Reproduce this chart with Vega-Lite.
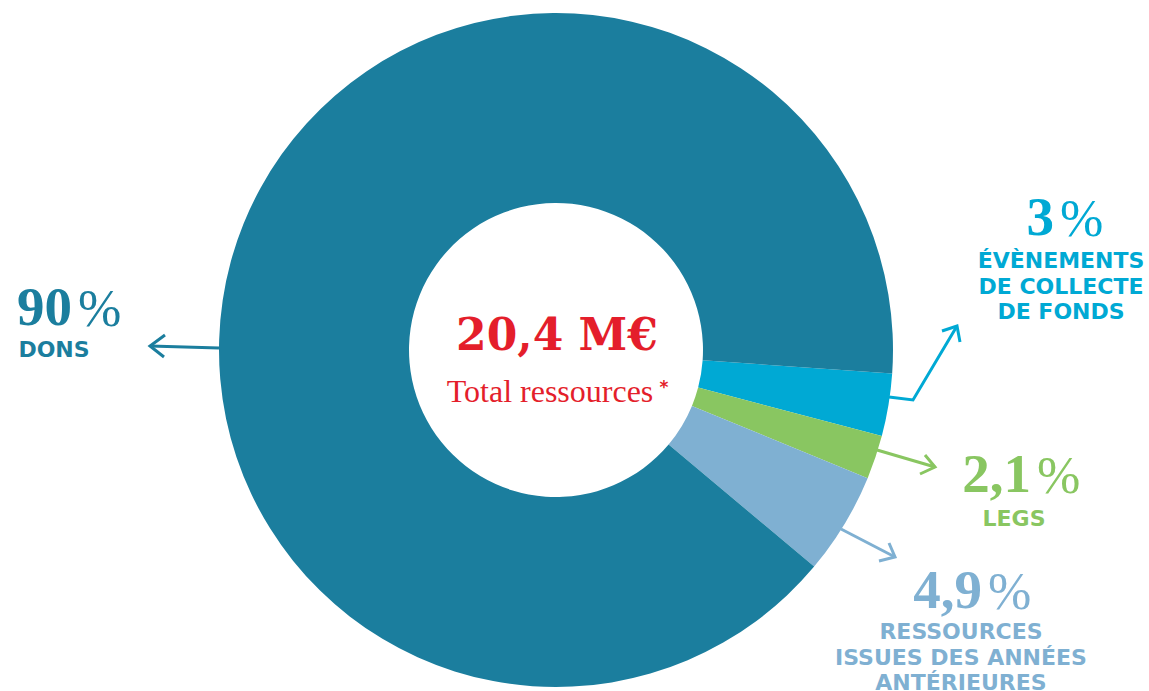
{
  "$schema": "https://vega.github.io/schema/vega-lite/v6.json",
  "width": 1149,
  "height": 691,
  "padding": 0,
  "autosize": {"type": "none"},
  "background": "white",
  "config": {"view": {"stroke": null}},
  "datasets": {
    "slices": [
      {"group": "Évènements", "value": 3, "ord": 1},
      {"group": "Legs", "value": 2.1, "ord": 2},
      {"group": "Antérieures", "value": 4.9, "ord": 3},
      {"group": "Dons", "value": 90, "ord": 4}
    ],
    "pct": [
      {"group": "Dons", "num": "90", "x": 72, "y": 325},
      {"group": "Évènements", "num": "3", "x": 1054, "y": 235},
      {"group": "Legs", "num": "2,1", "x": 1031, "y": 492},
      {"group": "Antérieures", "num": "4,9", "x": 982, "y": 608}
    ],
    "sub": [
      {"group": "Dons", "text": "DONS", "x": 54, "y": 357},
      {"group": "Évènements", "text": "ÉVÈNEMENTS\nDE COLLECTE\nDE FONDS", "x": 1061, "y": 268},
      {"group": "Legs", "text": "LEGS", "x": 1014, "y": 526},
      {"group": "Antérieures", "text": "RESSOURCES\nISSUES DES ANNÉES\nANTÉRIEURES", "x": 961, "y": 639}
    ],
    "center": [
      {"kind": "total", "text": "20,4 M€", "x": 557, "y": 350},
      {"kind": "caption", "text": "Total ressources", "x": 550, "y": 402},
      {"kind": "star", "text": "*", "x": 664, "y": 393}
    ],
    "arrows": [
      {"group": "Dons", "seg": "d1", "i": 1, "x": 219, "y": 348},
      {"group": "Dons", "seg": "d1", "i": 2, "x": 150, "y": 346},
      {"group": "Dons", "seg": "d2", "i": 1, "x": 165, "y": 335},
      {"group": "Dons", "seg": "d2", "i": 2, "x": 150, "y": 346},
      {"group": "Dons", "seg": "d2", "i": 3, "x": 164, "y": 357},
      {"group": "Évènements", "seg": "e1", "i": 1, "x": 889, "y": 397},
      {"group": "Évènements", "seg": "e1", "i": 2, "x": 913, "y": 400},
      {"group": "Évènements", "seg": "e1", "i": 3, "x": 957, "y": 326},
      {"group": "Évènements", "seg": "e2", "i": 1, "x": 942, "y": 331},
      {"group": "Évènements", "seg": "e2", "i": 2, "x": 957, "y": 326},
      {"group": "Évènements", "seg": "e2", "i": 3, "x": 960, "y": 342},
      {"group": "Legs", "seg": "l1", "i": 1, "x": 877, "y": 450},
      {"group": "Legs", "seg": "l1", "i": 2, "x": 935, "y": 467},
      {"group": "Legs", "seg": "l2", "i": 1, "x": 925, "y": 455},
      {"group": "Legs", "seg": "l2", "i": 2, "x": 935, "y": 467},
      {"group": "Legs", "seg": "l2", "i": 3, "x": 920, "y": 474},
      {"group": "Antérieures", "seg": "a1", "i": 1, "x": 841, "y": 529},
      {"group": "Antérieures", "seg": "a1", "i": 2, "x": 895, "y": 557},
      {"group": "Antérieures", "seg": "a2", "i": 1, "x": 889, "y": 543},
      {"group": "Antérieures", "seg": "a2", "i": 2, "x": 895, "y": 557},
      {"group": "Antérieures", "seg": "a2", "i": 3, "x": 879, "y": 561}
    ]
  },
  "layer": [
    {
      "data": {"name": "slices"},
      "mark": {"type": "arc", "radius": 337, "radius2": 147, "stroke": null},
      "encoding": {
        "x": {"datum": 556, "type": "quantitative", "scale": {"domain": [0, 1149]}, "axis": null},
        "y": {"datum": 350, "type": "quantitative", "scale": {"domain": [0, 691], "reverse": true}, "axis": null},
        "theta": {"field": "value", "type": "quantitative", "stack": true, "scale": {"range": [1.6406, 7.9238]}},
        "order": {"field": "ord", "type": "quantitative"},
        "color": {
          "field": "group", "type": "nominal", "legend": null,
          "scale": {"domain": ["Dons", "Évènements", "Legs", "Antérieures"], "range": ["#1B7E9E", "#00A9D4", "#89C661", "#7FB0D2"]}
        }
      }
    },
    {
      "data": {"name": "arrows"},
      "mark": {"type": "line", "strokeWidth": 3, "strokeJoin": "miter", "strokeCap": "butt"},
      "encoding": {
        "x": {"field": "x", "type": "quantitative", "scale": {"domain": [0, 1149]}, "axis": null},
        "y": {"field": "y", "type": "quantitative", "scale": {"domain": [0, 691], "reverse": true}, "axis": null},
        "detail": {"field": "seg"},
        "order": {"field": "i", "type": "quantitative"},
        "color": {"field": "group", "type": "nominal", "legend": null}
      }
    },
    {
      "data": {"name": "pct"},
      "mark": {"type": "text", "align": "right", "baseline": "alphabetic", "font": "Liberation Serif", "fontWeight": "bold", "fontSize": 55},
      "encoding": {
        "x": {"field": "x", "type": "quantitative", "scale": {"domain": [0, 1149]}, "axis": null},
        "y": {"field": "y", "type": "quantitative", "scale": {"domain": [0, 691], "reverse": true}, "axis": null},
        "text": {"field": "num"},
        "color": {"field": "group", "type": "nominal", "legend": null}
      }
    },
    {
      "data": {"name": "pct"},
      "mark": {"type": "text", "align": "left", "baseline": "alphabetic", "font": "Liberation Serif", "fontWeight": "normal", "fontSize": 52, "dx": 6, "dy": 1},
      "encoding": {
        "x": {"field": "x", "type": "quantitative", "scale": {"domain": [0, 1149]}, "axis": null},
        "y": {"field": "y", "type": "quantitative", "scale": {"domain": [0, 691], "reverse": true}, "axis": null},
        "text": {"value": "%"},
        "color": {"field": "group", "type": "nominal", "legend": null}
      }
    },
    {
      "data": {"name": "sub"},
      "mark": {"type": "text", "align": "center", "baseline": "alphabetic", "font": "DejaVu Sans", "fontWeight": "bold", "fontSize": 22, "lineBreak": "\n", "lineHeight": 25.5},
      "encoding": {
        "x": {"field": "x", "type": "quantitative", "scale": {"domain": [0, 1149]}, "axis": null},
        "y": {"field": "y", "type": "quantitative", "scale": {"domain": [0, 691], "reverse": true}, "axis": null},
        "text": {"field": "text"},
        "color": {"field": "group", "type": "nominal", "legend": null}
      }
    },
    {
      "data": {"name": "center"},
      "transform": [{"filter": "datum.kind === 'total'"}],
      "mark": {"type": "text", "align": "center", "baseline": "alphabetic", "font": "DejaVu Serif", "fontWeight": "bold", "fontSize": 44, "color": "#E41E2B"},
      "encoding": {
        "x": {"field": "x", "type": "quantitative", "scale": {"domain": [0, 1149]}, "axis": null},
        "y": {"field": "y", "type": "quantitative", "scale": {"domain": [0, 691], "reverse": true}, "axis": null},
        "text": {"field": "text"}
      }
    },
    {
      "data": {"name": "center"},
      "transform": [{"filter": "datum.kind === 'caption'"}],
      "mark": {"type": "text", "align": "center", "baseline": "alphabetic", "font": "Liberation Serif", "fontWeight": "normal", "fontSize": 32, "color": "#E41E2B"},
      "encoding": {
        "x": {"field": "x", "type": "quantitative", "scale": {"domain": [0, 1149]}, "axis": null},
        "y": {"field": "y", "type": "quantitative", "scale": {"domain": [0, 691], "reverse": true}, "axis": null},
        "text": {"field": "text"}
      }
    },
    {
      "data": {"name": "center"},
      "transform": [{"filter": "datum.kind === 'star'"}],
      "mark": {"type": "text", "align": "center", "baseline": "alphabetic", "font": "DejaVu Sans", "fontWeight": "bold", "fontSize": 17, "color": "#E41E2B"},
      "encoding": {
        "x": {"field": "x", "type": "quantitative", "scale": {"domain": [0, 1149]}, "axis": null},
        "y": {"field": "y", "type": "quantitative", "scale": {"domain": [0, 691], "reverse": true}, "axis": null},
        "text": {"field": "text"}
      }
    }
  ]
}
